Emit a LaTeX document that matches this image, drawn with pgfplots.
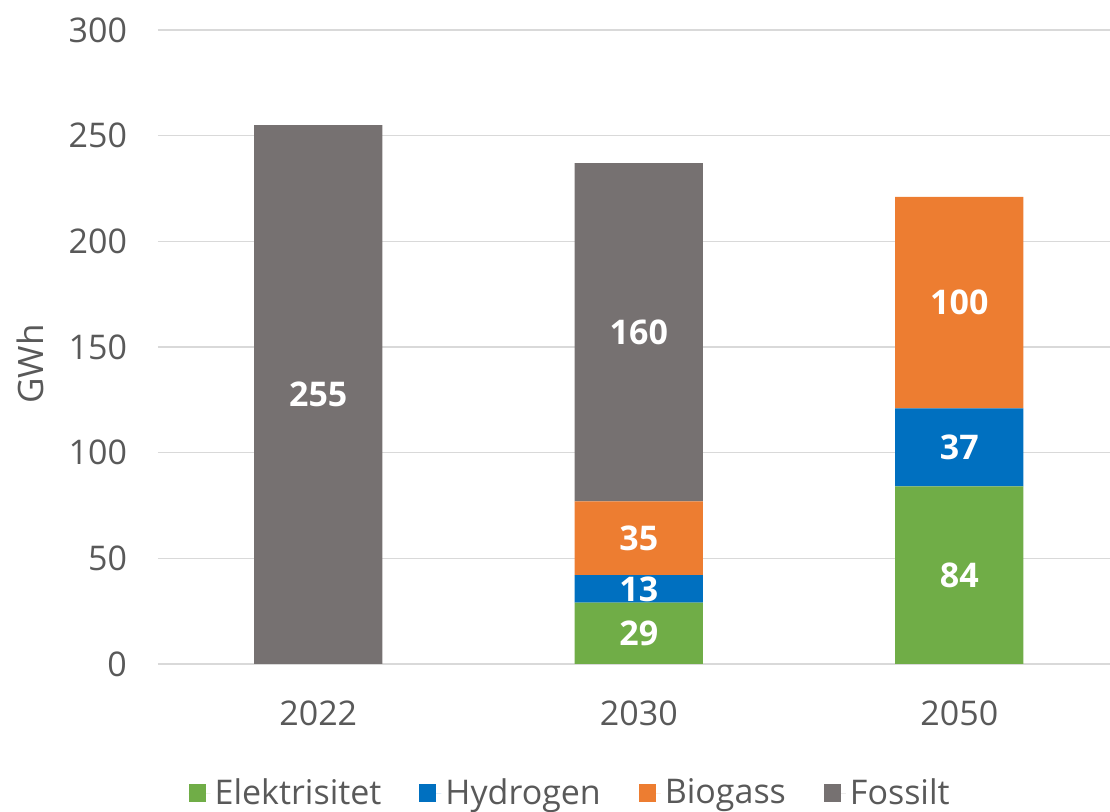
\documentclass[border=0pt]{standalone}
\usepackage{pgfplots}
\pgfplotsset{compat=1.18}
\usepackage{fontspec}
\setmainfont{Open Sans}
\definecolor{cgreen}{HTML}{70AD47}
\definecolor{cblue}{HTML}{0070C0}
\definecolor{corange}{HTML}{ED7D31}
\definecolor{cgray}{HTML}{767171}
\definecolor{tgray}{HTML}{595959}
\definecolor{ggray}{HTML}{D9D9D9}
\begin{document}
\begin{tikzpicture}
\pgfplotsset{
  common/.style={
    at={(79pt,74pt)}, anchor=south west,
    scale only axis, width=476pt, height=317pt,
    xmin=-0.5, xmax=2.47, ymin=0, ymax=300,
  }
}
\begin{axis}[common,
  ybar stacked, bar width=0.4,
  axis line style={draw=none},
  ymajorgrids, grid style={ggray, line width=0.75pt},
  ytick={0,50,...,300},
  xtick={0,1,2}, xticklabels={2022,2030,2050},
  major tick length=0pt,
  tick label style={font=\fontsize{17}{20}\selectfont, text=tgray},
  /pgf/number format/assume math mode=true,
  yticklabel style={xshift=-12pt},
  xticklabel style={yshift=-15pt},
  ylabel={GWh},
  ylabel style={font=\fontsize{17.5}{20}\selectfont, text=tgray, at={(axis description cs:-0.134,0.473)}, anchor=center, rotate=0},
  legend columns=4,
  legend style={draw=none, fill=none, font=\fontsize{17}{20}\selectfont, text=tgray,
    at={(axis description cs:0.434,-0.2035)}, anchor=center,
    /tikz/every even column/.append style={column sep=17pt}},
  legend image code/.code={\fill[#1] (0pt,-4.5pt) rectangle (8.5pt,4.5pt); \path (0pt,0pt) -- (11pt,0pt);},
  enlargelimits=false, clip=false,
]
\addplot[fill=cgreen, draw=none] coordinates {(0,0) (1,29) (2,84)};
\addlegendentry{Elektrisitet}
\addplot[fill=cblue, draw=none] coordinates {(0,0) (1,13) (2,37)};
\addlegendentry{Hydrogen}
\addplot[fill=corange, draw=none] coordinates {(0,0) (1,35) (2,100)};
\addlegendentry{Biogass}
\addplot[fill=cgray, draw=none] coordinates {(0,255) (1,160) (2,0)};
\addlegendentry{Fossilt}
\end{axis}
\begin{axis}[common, hide axis, clip=false]
\addplot[draw=none, mark=none, nodes near coords, point meta=explicit symbolic,
  nodes near coords style={anchor=center, font=\fontsize{17}{20}\selectfont\bfseries, text=white}]
  coordinates {
   (0,127.5) [255]
   (1,14.5) [29]
   (1,35.5) [13]
   (1,59.5) [35]
   (1,157) [160]
   (2,42) [84]
   (2,102.5) [37]
   (2,171) [100]
  };
\end{axis}
\pgfresetboundingbox
\path (0,0) rectangle (555pt,406pt);
\end{tikzpicture}
\end{document}
